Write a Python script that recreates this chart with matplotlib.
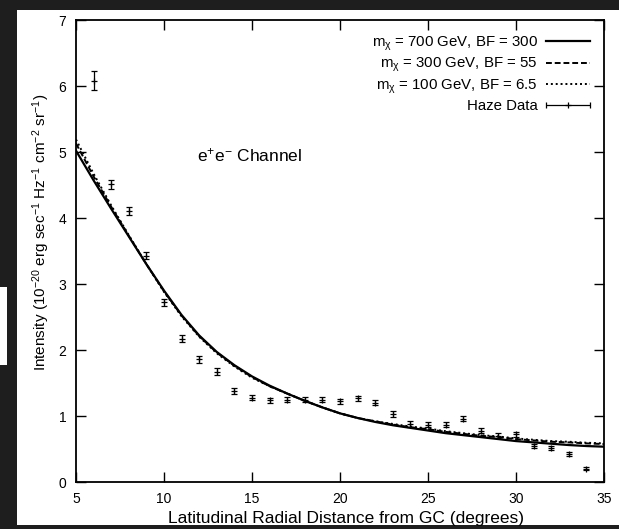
import numpy as np
import matplotlib as mpl

mpl.use('Agg')

from matplotlib import pyplot as plt
from matplotlib.patches import Rectangle
from matplotlib.legend_handler import HandlerErrorbar

plt.rcParams['font.family'] = ['Liberation Sans', 'DejaVu Sans']
plt.rcParams['mathtext.default'] = 'regular'

# haze data points
haze_x = [6, 7, 8, 9, 10, 11, 12, 13, 14, 15, 16, 17, 18, 19, 20,
          21, 22, 23, 24, 25, 26, 27, 28, 29, 30, 31, 32, 33, 34]
haze_y = [6.08, 4.51, 4.1, 3.43, 2.72, 2.17, 1.86, 1.67, 1.38, 1.28, 1.24, 1.25, 1.25, 1.25, 1.22,
          1.27, 1.2, 1.03, 0.88, 0.87, 0.87, 0.96, 0.78, 0.7, 0.72, 0.55, 0.52, 0.43, 0.2]
haze_err = [0.14, 0.07, 0.06, 0.05, 0.05, 0.05, 0.05, 0.05, 0.04, 0.04, 0.04, 0.04, 0.04, 0.04, 0.04,
            0.04, 0.04, 0.04, 0.04, 0.04, 0.04, 0.04, 0.04, 0.04, 0.04, 0.03, 0.03, 0.03, 0.02]

# model curves
model_x = list(range(5, 36))
m700 = [5.02, 4.57, 4.14, 3.72, 3.3, 2.9, 2.53, 2.22, 1.97, 1.77, 1.6, 1.46, 1.34, 1.23, 1.13, 1.04,
        0.97, 0.91, 0.86, 0.82, 0.78, 0.74, 0.71, 0.68, 0.65, 0.62, 0.6, 0.58, 0.56, 0.545, 0.535]
m300 = [5.13, 4.63, 4.17, 3.73, 3.3, 2.89, 2.52, 2.21, 1.96, 1.76, 1.59, 1.45, 1.34, 1.23, 1.13, 1.04,
        0.97, 0.92, 0.87, 0.83, 0.8, 0.76, 0.73, 0.7, 0.68, 0.65, 0.63, 0.61, 0.6, 0.585, 0.575]
m100 = [5.19, 4.67, 4.19, 3.74, 3.3, 2.88, 2.51, 2.2, 1.95, 1.75, 1.58, 1.45, 1.34, 1.23, 1.13, 1.04,
        0.97, 0.92, 0.88, 0.84, 0.81, 0.77, 0.74, 0.71, 0.69, 0.66, 0.64, 0.62, 0.61, 0.595, 0.585]

labels = ['m$_{χ}$ = 700 GeV, BF = 300',
          'm$_{χ}$ = 300 GeV, BF = 55',
          'm$_{χ}$ = 100 GeV, BF = 6.5',
          'Haze Data']

fig = plt.figure(figsize=(6.19, 5.29), dpi=100)
fig.patch.set_facecolor('#1e1e1e')
fig.patches.append(Rectangle((17 / 619, 4 / 529), 1, 515 / 529, transform=fig.transFigure,
                             facecolor='white', edgecolor='none', zorder=-10))
fig.patches.append(Rectangle((0, 164 / 529), 7 / 619, 78 / 529, transform=fig.transFigure,
                             facecolor='white', edgecolor='none', zorder=-10))

ax = fig.add_axes([76 / 619, 47 / 529, 528 / 619, 462 / 529])
ax.set_facecolor('white')

l1, = ax.plot(model_x, m700, color='black', lw=1.6, label=labels[0])
l2, = ax.plot(model_x, m300, color='black', lw=1.4, dashes=(3, 1.5), label=labels[1])
l3, = ax.plot(model_x, m100, color='black', lw=1.4, dashes=(1, 1.5), label=labels[2])

ax.errorbar(haze_x, haze_y, yerr=haze_err, fmt='+', color='black', ms=5, mew=0.9,
            elinewidth=0.9, capsize=2.5, capthick=0.9)
# legend proxy drawn horizontally like gnuplot
proxy = ax.errorbar([np.nan], [np.nan], xerr=[1], fmt='+', color='black', ms=5, mew=0.9,
                    elinewidth=0.9, capsize=2.5, capthick=0.9, label=labels[3])

ax.legend(handles=[l1, l2, l3, proxy], loc='upper right', frameon=False, markerfirst=False,
          fontsize=10.8, handlelength=2.9, handletextpad=0.55, labelspacing=0.22,
          borderaxespad=0.75, borderpad=0.2,
          handler_map={type(proxy): HandlerErrorbar(xerr_size=1.45)})

ax.text(11.9, 4.95, 'e$^{+}$e$^{-}$ Channel', fontsize=12.5, va='center', ha='left')

ax.set_xlim(5, 35)
ax.set_ylim(0, 7)
ax.set_xticks([5, 10, 15, 20, 25, 30, 35])
ax.set_yticks([0, 1, 2, 3, 4, 5, 6, 7])
ax.tick_params(direction='in', top=True, right=True, length=7, width=1, pad=7, labelsize=10)
for s in ax.spines.values():
    s.set_linewidth(1.3)

ax.set_xlabel('Latitudinal Radial Distance from GC (degrees)', fontsize=12.5)
ax.set_ylabel('Intensity (10$^{-20}$ erg sec$^{-1}$ Hz$^{-1}$ cm$^{-2}$ sr$^{-1}$)', fontsize=11)
ax.xaxis.set_label_coords(0.511, -0.063)
ax.yaxis.set_label_coords(-0.046, 0.54)

fig.savefig('out.png', dpi=100, facecolor=fig.get_facecolor())
